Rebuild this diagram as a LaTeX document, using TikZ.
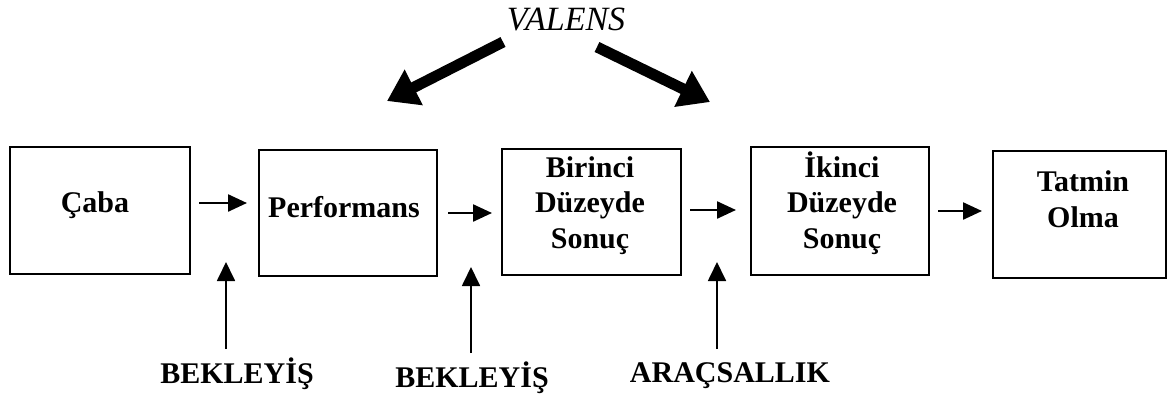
\documentclass[tikz,border=0pt]{standalone}
\usepackage{fontspec}
\setmainfont{Liberation Serif}
\usetikzlibrary{arrows.meta}
\begin{document}
\begin{tikzpicture}[x=1pt,y=-1pt,
  box/.style={draw=black,line width=2pt,rectangle,inner sep=0pt},
  boxtext/.style={font=\fontsize{30}{35.5}\selectfont\bfseries,align=center,inner sep=0pt,anchor=base},
  lbl/.style={font=\fontsize{30}{36}\selectfont\bfseries,inner sep=0pt,anchor=base},
  arr/.style={line width=2.4pt,-{Triangle[length=19pt,width=17pt]}},
  uparr/.style={line width=1.8pt,-{Triangle[length=19pt,width=18pt]}},
  bigarr/.style={line width=11pt,-{Triangle[length=30pt,width=38pt]}}]
\useasboundingbox (0,0) rectangle (1169,394);
% boxes
\node[box,minimum width=180pt,minimum height=127pt] (caba) at (100,210.5) {};
\node[box,minimum width=178pt,minimum height=126pt] (perf) at (348,213) {};
\node[box,minimum width=179pt,minimum height=126pt] (bir) at (591.5,212) {};
\node[box,minimum width=178pt,minimum height=128pt] (iki) at (840,211) {};
\node[box,minimum width=173pt,minimum height=127pt] (tat) at (1079.5,214.5) {};
% box texts
\node[boxtext] (cabat) at (95,212) {Çaba};
\node[boxtext] (perft) at (344,217) {Performans};
\node[boxtext] (birt) at (590,248) {Birinci\\Düzeyde\\Sonuç};
\node[boxtext] (ikit) at (842,248) {İkinci\\Düzeyde\\Sonuç};
\node[boxtext] (tatt) at (1083,227) {Tatmin\\Olma};
% horizontal arrows
\draw[arr] ([xshift=8pt,yshift=7.5pt]caba.east) -- ([xshift=-11pt,yshift=10pt]perf.west);
\draw[arr] ([xshift=10pt]perf.east) -- ([xshift=-9pt,yshift=-1pt]bir.west);
\draw[arr] ([xshift=8pt,yshift=2pt]bir.east) -- ([xshift=-14pt,yshift=1pt]iki.west);
\draw[arr] ([xshift=8pt]iki.east) -- ([xshift=-10pt,yshift=3.5pt]tat.west);
% bottom labels
\node[lbl] (bek1) at (237,383) {BEKLEYİŞ};
\node[lbl] (bek2) at (472,387) {BEKLEYİŞ};
\node[lbl] (ara) at (730,382) {ARAÇSALLIK};
\coordinate (t1) at (226,262);
\coordinate (t2) at (471,267);
\coordinate (t3) at (717,262);
\coordinate (s1) at (226,349);
\coordinate (s2) at (471,353);
\coordinate (s3) at (717,349);
\draw[uparr] (s1) -- (t1);
\draw[uparr] (s2) -- (t2);
\draw[uparr] (s3) -- (t3);
% valens
\node[font=\fontsize{34}{40}\selectfont\itshape,inner sep=0pt,anchor=base] (val) at (566,30) {VALENS};
\coordinate (vl0) at (503,42);
\coordinate (vl1) at (387,101);
\coordinate (vr0) at (597,47);
\coordinate (vr1) at (710,102);
\draw[bigarr] (vl0) -- (vl1);
\draw[bigarr] (vr0) -- (vr1);
\end{tikzpicture}
\end{document}
